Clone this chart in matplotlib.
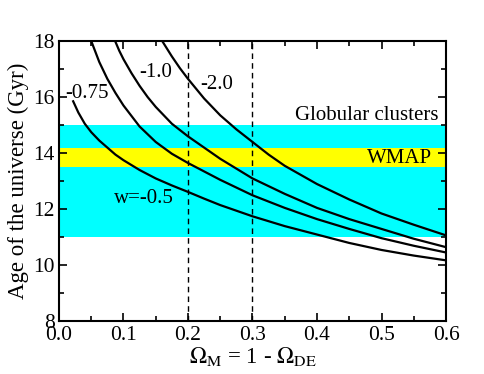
import matplotlib
matplotlib.use('Agg')
import matplotlib.pyplot as plt
from matplotlib.ticker import MultipleLocator

plt.rcParams['font.family'] = ['Liberation Serif', 'DejaVu Serif']
plt.rcParams['mathtext.fontset'] = 'stix'

# ages (Gyr) for each equation of state w
om_w05 = [0.022, 0.03, 0.04, 0.05, 0.0625, 0.075, 0.0875, 0.1, 0.125, 0.15, 0.175, 0.2,
          0.225, 0.25, 0.275, 0.3, 0.35, 0.4, 0.45, 0.5, 0.55, 0.6]
age_w05 = [15.85, 15.45, 15.05, 14.75, 14.45, 14.2, 13.95, 13.75, 13.4, 13.1, 12.85, 12.62,
           12.38, 12.15, 11.95, 11.75, 11.4, 11.1, 10.8, 10.55, 10.35, 10.18]

om_w075 = [0.05, 0.0625, 0.075, 0.0875, 0.1, 0.125, 0.15, 0.175, 0.2, 0.25, 0.3, 0.35,
           0.4, 0.45, 0.5, 0.55, 0.6]
age_w075 = [18.0, 17.25, 16.65, 16.15, 15.7, 14.95, 14.4, 13.98, 13.65, 13.05, 12.5, 12.05,
            11.65, 11.3, 10.97, 10.7, 10.46]

om_w10 = [0.087, 0.0935, 0.1, 0.1125, 0.125, 0.1375, 0.15, 0.175, 0.2, 0.25, 0.3, 0.35,
          0.4, 0.45, 0.5, 0.55, 0.6]
age_w10 = [18.0, 17.65, 17.35, 16.85, 16.4, 16.0, 15.65, 15.05, 14.6, 13.8, 13.1, 12.55,
           12.05, 11.65, 11.3, 10.95, 10.65]

om_w20 = [0.16, 0.175, 0.1875, 0.2, 0.225, 0.25, 0.275, 0.3, 0.325, 0.35, 0.4, 0.45, 0.5,
          0.55, 0.6]
age_w20 = [18.0, 17.45, 17.03, 16.65, 15.95, 15.35, 14.85, 14.4, 13.95, 13.55, 12.9, 12.35,
           11.85, 11.45, 11.07]

gc_band = (11.0, 15.0)
wmap_band = (13.5, 14.2)
om_lines = [0.2, 0.3]

fig = plt.figure(figsize=(4.85, 3.74), dpi=100)
ax = fig.add_axes([0.1216, 0.1404, 0.7980, 0.7500])

ax.axhspan(gc_band[0], gc_band[1], color='#00ffff', lw=0, zorder=0)
ax.axhspan(wmap_band[0], wmap_band[1], color='#ffff00', lw=0, zorder=1)

for x in om_lines:
    ax.axvline(x, color='black', ls=(0, (4, 3)), lw=1.0, zorder=2)

for om, age in [(om_w05, age_w05), (om_w075, age_w075), (om_w10, age_w10), (om_w20, age_w20)]:
    ax.plot(om, age, color='black', lw=1.6, zorder=3, solid_joinstyle='round')

fs = 15
ax.text(0.589, 15.36, 'Globular clusters', ha='right', va='center', fontsize=fs)
ax.text(0.579, 13.82, 'WMAP', ha='right', va='center', fontsize=fs)
ax.text(0.131, 12.39, 'w=-0.5', ha='center', va='center', fontsize=fs)
ax.text(0.044, 16.14, '-0.75', ha='center', va='center', fontsize=fs)
ax.text(0.150, 16.86, '-1.0', ha='center', va='center', fontsize=fs)
ax.text(0.244, 16.44, '-2.0', ha='center', va='center', fontsize=fs)

ax.set_xlim(0, 0.6)
ax.set_ylim(8, 18)
ax.xaxis.set_major_locator(MultipleLocator(0.1))
ax.xaxis.set_minor_locator(MultipleLocator(0.05))
ax.yaxis.set_major_locator(MultipleLocator(2))
ax.yaxis.set_minor_locator(MultipleLocator(1))
ax.tick_params(which='both', direction='in', top=True, right=True, labelsize=15.5, width=1.2)
ax.tick_params(which='major', length=6, pad=3)
ax.tick_params(which='minor', length=3.5)
for s in ax.spines.values():
    s.set_linewidth(1.5)

ax.set_xlabel(r'$\Omega_{\rm M}$ = 1 - $\Omega_{\rm DE}$', fontsize=16.5, labelpad=0)
ax.set_ylabel('Age of the universe (Gyr)', fontsize=16.5, labelpad=3)

fig.savefig('out.png', dpi=100)
